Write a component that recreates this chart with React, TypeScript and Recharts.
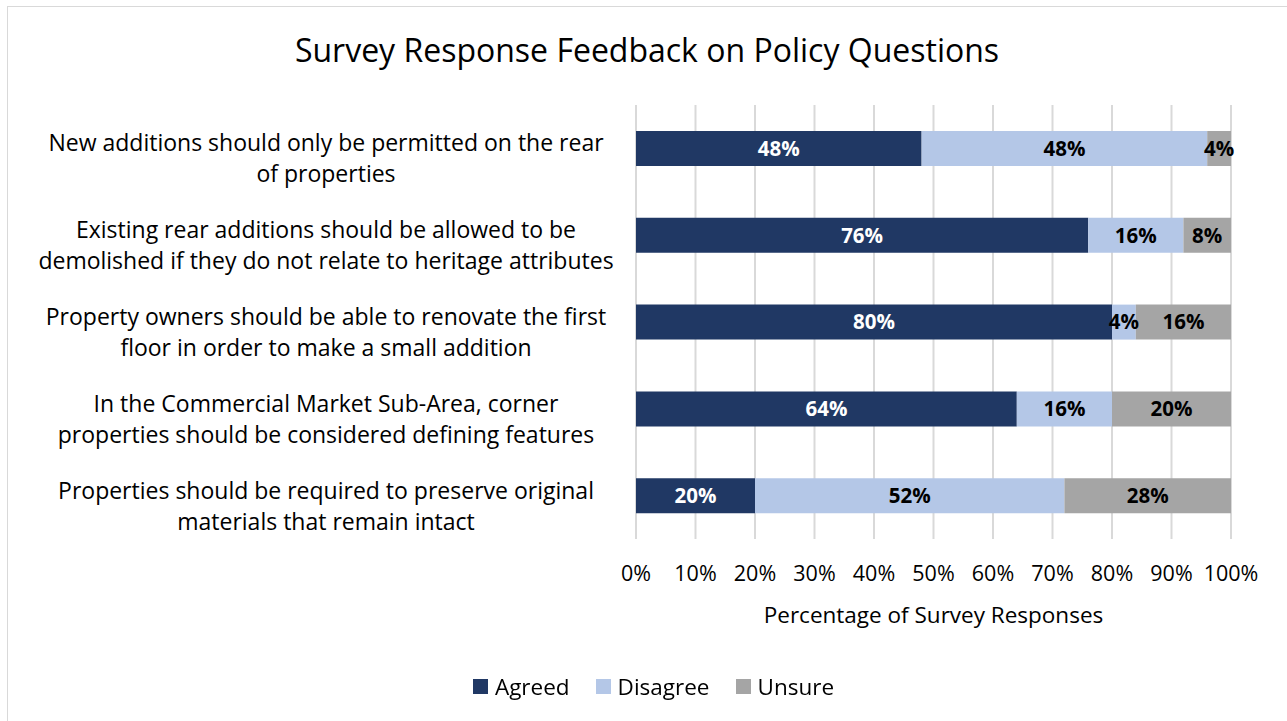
import {
  BarChart,
  Bar,
  XAxis,
  YAxis,
  CartesianGrid,
  Legend,
  LabelList,
} from 'recharts';

const questions = [
  'New additions should only be permitted on the rear\nof properties',
  'Existing rear additions should be allowed to be\ndemolished if they do not relate to heritage attributes',
  'Property owners should be able to renovate the first\nfloor in order to make a small addition',
  'In the Commercial Market Sub-Area, corner\nproperties should be considered defining features',
  'Properties should be required to preserve original\nmaterials that remain intact',
];
const agreed = [48, 76, 80, 64, 20];
const disagree = [48, 16, 4, 16, 52];
const unsure = [4, 8, 16, 20, 28];
const xTicks = [0, 10, 20, 30, 40, 50, 60, 70, 80, 90, 100];

const data = questions.map((q, i) => ({
  q,
  agreed: agreed[i],
  disagree: disagree[i],
  unsure: unsure[i],
}));

const FONT = "'Open Sans', sans-serif";
const colors = { agreed: '#203864', disagree: '#B4C7E7', unsure: '#A5A5A5' };

function QuestionTick(props: any) {
  const { y, payload } = props;
  const lines = String(payload.value).split('\n');
  return (
    <text x={326} y={y + 3} textAnchor="middle" fill="#000" fontSize={23} fontFamily={FONT}>
      {lines.map((l, i) => (
        <tspan key={i} x={326} dy={i === 0 ? 0 : 31}>
          {l}
        </tspan>
      ))}
    </text>
  );
}

function LegendContent() {
  const items = [
    { name: 'Agreed', c: colors.agreed },
    { name: 'Disagree', c: colors.disagree },
    { name: 'Unsure', c: colors.unsure },
  ];
  return (
    <div style={{ display: 'flex', justifyContent: 'center', gap: 26, fontFamily: FONT, fontSize: 22.5 }}>
      {items.map((it) => (
        <div key={it.name} style={{ display: 'flex', alignItems: 'center', gap: 7 }}>
          <span style={{ width: 15, height: 15, background: it.c, display: 'inline-block' }} />
          <span>{it.name}</span>
        </div>
      ))}
    </div>
  );
}

const labelStyle = { fontSize: 20.5, fontWeight: 700, fontFamily: FONT };

export default function App() {
  return (
    <div style={{ position: 'fixed', left: 0, top: 0, width: 1287, height: 721, background: '#fff' }}>
      <div
        style={{
          position: 'absolute',
          left: 7,
          top: 6,
          width: 1300,
          height: 730,
          borderLeft: '1px solid #d9d9d9',
          borderTop: '1px solid #d9d9d9',
        }}
      />
      <div
        style={{
          position: 'absolute',
          left: 0,
          width: 1294,
          top: 28,
          textAlign: 'center',
          fontFamily: FONT,
          fontSize: 32,
          color: '#000',
        }}
      >
        Survey Response Feedback on Policy Questions
      </div>
      <BarChart
        width={1287}
        height={721}
        data={data}
        layout="vertical"
        barSize={35}
        margin={{ top: 105, right: 56, left: 20, bottom: 61 }}
        style={{ position: 'absolute', left: 0, top: 0 }}
      >
        <CartesianGrid horizontal={false} stroke="#d9d9d9" strokeWidth={2} />
        <XAxis
          type="number"
          domain={[0, 100]}
          ticks={xTicks}
          tickFormatter={(v) => `${v}%`}
          axisLine={false}
          tickLine={false}
          tickMargin={21}
          height={90}
          tick={{ fill: '#000', fontSize: 21.5, fontFamily: FONT }}
          label={{
            value: 'Percentage of Survey Responses',
            position: 'insideTop',
            offset: 68,
            fill: '#000',
            fontSize: 22.5,
            fontFamily: FONT,
          }}
        />
        <YAxis
          type="category"
          dataKey="q"
          width={616}
          axisLine={false}
          tickLine={false}
          tick={<QuestionTick />}
        />
        <Legend
          verticalAlign="bottom"
          content={<LegendContent />}
          wrapperStyle={{ bottom: 19, left: 10, width: 1287 }}
        />
        <Bar dataKey="agreed" name="Agreed" stackId="a" fill={colors.agreed} isAnimationActive={false}>
          <LabelList dataKey="agreed" position="center" formatter={(v: any) => `${v}%`} fill="#fff" style={labelStyle} />
        </Bar>
        <Bar dataKey="disagree" name="Disagree" stackId="a" fill={colors.disagree} isAnimationActive={false}>
          <LabelList dataKey="disagree" position="center" formatter={(v: any) => `${v}%`} fill="#000" style={labelStyle} />
        </Bar>
        <Bar dataKey="unsure" name="Unsure" stackId="a" fill={colors.unsure} isAnimationActive={false}>
          <LabelList dataKey="unsure" position="center" formatter={(v: any) => `${v}%`} fill="#000" style={labelStyle} />
        </Bar>
      </BarChart>
    </div>
  );
}
